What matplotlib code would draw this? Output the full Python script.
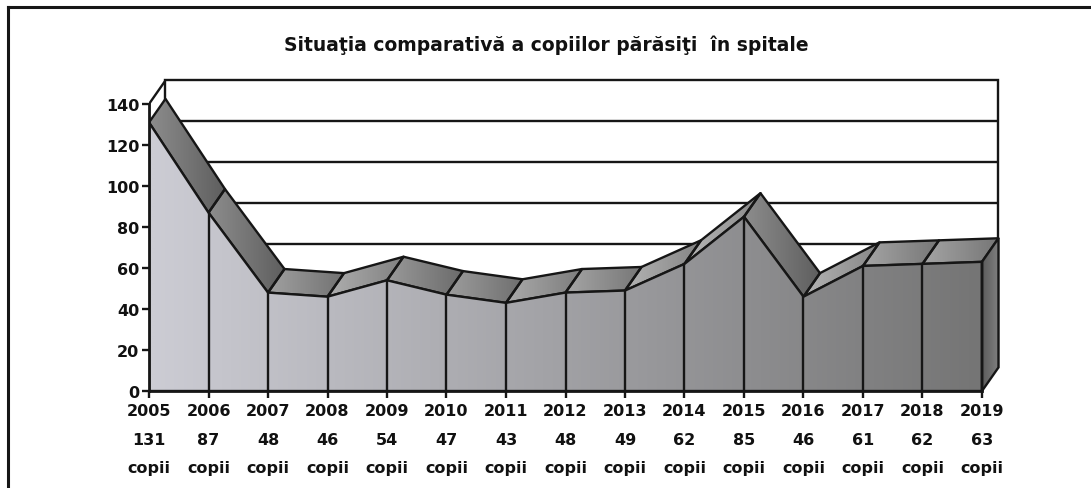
import numpy as np
import matplotlib
matplotlib.use("Agg")
import matplotlib.pyplot as plt
from matplotlib.patches import Polygon
from matplotlib.lines import Line2D

# ---------------- data ----------------
title = "Situaţia comparativă a copiilor părăsiţi  în spitale"
years = ["2005", "2006", "2007", "2008", "2009", "2010", "2011", "2012",
         "2013", "2014", "2015", "2016", "2017", "2018", "2019"]
values = [131, 87, 48, 46, 54, 47, 43, 48, 49, 62, 85, 46, 61, 62, 63]
unit = "copii"
y_ticks = [0, 20, 40, 60, 80, 100, 120, 140]

# ---------------- layout ----------------
W, H = 1091, 489
fig = plt.figure(figsize=(W / 100, H / 100), dpi=100)
fig.patch.set_facecolor("white")
n = len(values)
x = np.arange(n)
v = np.array(values, dtype=float)
ymax = y_ticks[-1]

DX, DY = 0.277, 11.5   # depth offset (3-D look)
XPX = (982 - 149) / (n - 1)   # pixels per category
YPX = (392 - 105) / ymax      # pixels per unit
xhi = n - 1 + DX + 0.1
yhi = ymax + DY + 2
ax = fig.add_axes([149 / W, (H - 392) / H, xhi * XPX / W, yhi * YPX / H])
ax.set_xlim(0, xhi)
ax.set_ylim(0, yhi)
ax.set_facecolor("none")

LW = 1.7
EC = "#161616"

# back wall + left wall
ax.add_patch(Polygon([(0, 0), (DX, DY), (DX, ymax + DY), (0, ymax)], closed=True,
                     facecolor="white", edgecolor=EC, lw=LW, zorder=1))
ax.add_patch(Polygon([(DX, DY), (n - 1 + DX, DY), (n - 1 + DX, ymax + DY), (DX, ymax + DY)],
                     closed=True, facecolor="white", edgecolor=EC, lw=LW, zorder=1))
for t in y_ticks[1:-1]:
    ax.plot([DX, n - 1 + DX], [t + DY, t + DY], color=EC, lw=LW, zorder=1.1,
            solid_capstyle="butt")


def grad_fill(poly_pts, c_left, c_right, z):
    poly = Polygon(poly_pts, closed=True, facecolor="none", edgecolor="none")
    ax.add_patch(poly)
    pts = np.array(poly_pts)
    x0, x1 = pts[:, 0].min(), pts[:, 0].max()
    y0, y1 = pts[:, 1].min(), pts[:, 1].max()
    g = np.linspace(0, 1, 64)
    c_left = np.array(c_left)
    c_right = np.array(c_right)
    img = (c_left[None, :] * (1 - g[:, None]) + c_right[None, :] * g[:, None])[None, :, :]
    im = ax.imshow(img, extent=(x0, x1, y0, y1), aspect="auto", origin="lower",
                   interpolation="bilinear", zorder=z)
    im.set_clip_path(poly)


# top facets
for i in range(n - 1):
    pts = [(x[i], v[i]), (x[i + 1], v[i + 1]),
           (x[i + 1] + DX, v[i + 1] + DY), (x[i] + DX, v[i] + DY)]
    slope = v[i + 1] - v[i]
    base = 0.57 + 0.09 * np.tanh(slope / 15.0)
    grad_fill(pts, [base + 0.07] * 3, [base - 0.11] * 3, 2)
    ax.add_patch(Polygon(pts, closed=True, facecolor="none", edgecolor=EC,
                         lw=LW, zorder=2.2, joinstyle="round"))

# front face
front = [(0, 0)] + list(zip(x, v)) + [(n - 1, 0)]
grad_fill(front, [0.80, 0.80, 0.83], [0.46, 0.46, 0.46], 3)
ax.add_patch(Polygon(front, closed=True, facecolor="none", edgecolor=EC,
                     lw=LW, zorder=3.2, joinstyle="round"))
for i in range(n):
    ax.plot([x[i], x[i]], [0, v[i]], color=EC, lw=LW, zorder=3.3)

# right end face
right = [(n - 1, 0), (n - 1 + DX, DY), (n - 1 + DX, v[-1] + DY), (n - 1, v[-1])]
grad_fill(right, [0.36, 0.36, 0.36], [0.50, 0.50, 0.50], 3)
ax.add_patch(Polygon(right, closed=True, facecolor="none", edgecolor=EC,
                     lw=LW, zorder=3.2))

# axes / ticks
for s in ["top", "right"]:
    ax.spines[s].set_visible(False)
for s in ["left", "bottom"]:
    ax.spines[s].set_linewidth(LW + 0.3)
    ax.spines[s].set_color(EC)
    ax.spines[s].set_zorder(5)
ax.spines["left"].set_bounds(0, ymax)
ax.spines["bottom"].set_bounds(0, n - 1)
ax.set_yticks(y_ticks)
ax.set_yticklabels([str(t) for t in y_ticks], fontsize=11.5, fontweight="bold")
ax.set_xticks(x)
ax.set_xticklabels([f"{yr}\n{val}\n{unit}" for yr, val in zip(years, values)],
                   fontsize=11.5, fontweight="bold", linespacing=2.12)
ax.tick_params(axis="y", length=5, width=LW, pad=2, colors=EC, labelcolor="#111111")
ax.tick_params(axis="x", length=5, width=LW, pad=4, colors=EC, labelcolor="#111111")

# title and frame
fig.text(0.501, 1 - 45 / H, title, ha="center", va="center",
         fontsize=13.5, fontweight="bold", color="#111111")
fig.add_artist(Line2D([8 / W, 8 / W], [0, 1 - 8 / H], transform=fig.transFigure,
                      color=EC, lw=2.2))
fig.add_artist(Line2D([8 / W, 1], [1 - 8 / H, 1 - 8 / H], transform=fig.transFigure,
                      color=EC, lw=2.2))

fig.savefig("out.png", dpi=100)
